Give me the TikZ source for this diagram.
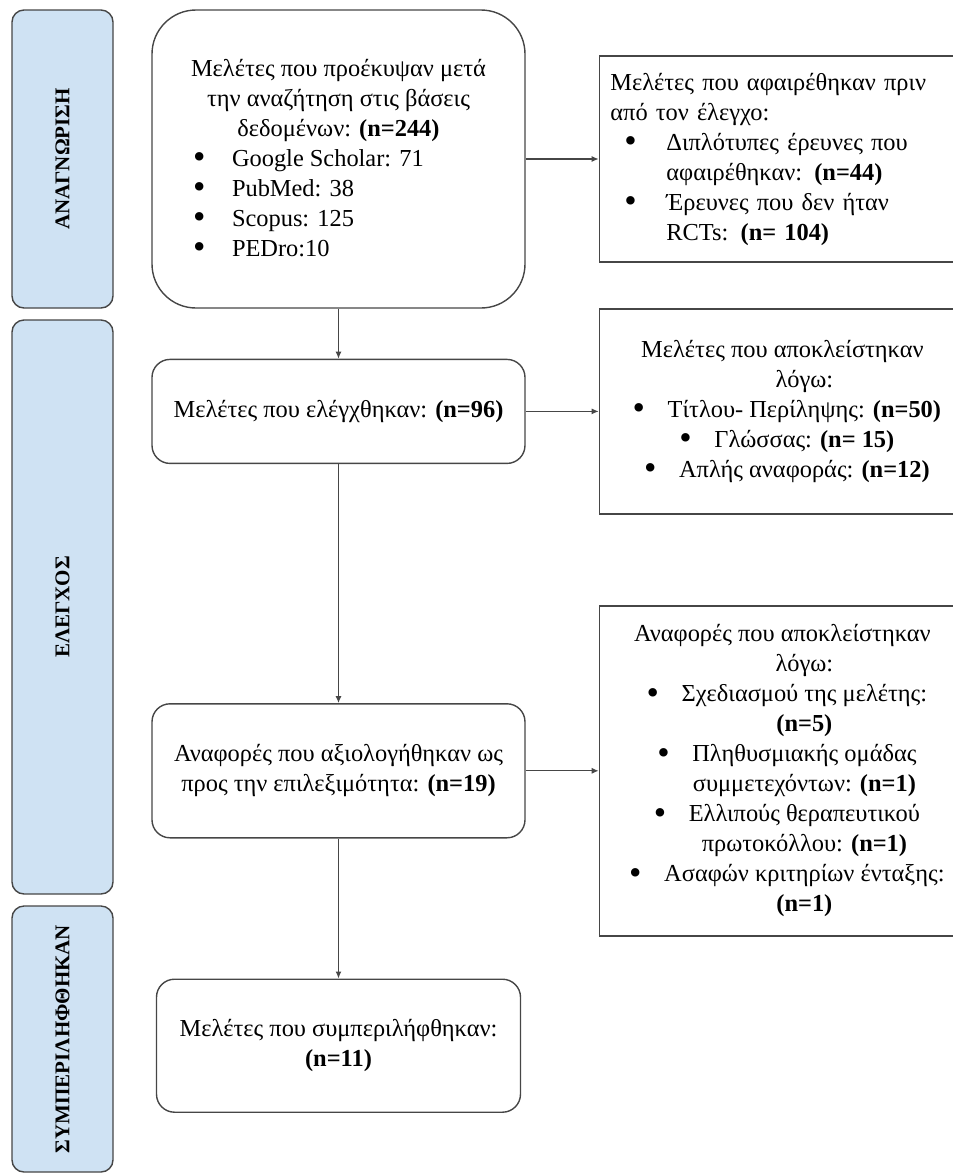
\documentclass[tikz,border=0pt]{standalone}
\usepackage{fontspec}
\setmainfont{Liberation Serif}
\usepackage{tikz}
\usetikzlibrary{arrows.meta, positioning}
\definecolor{phaseblue}{RGB}{207,226,243}
\definecolor{edgegray}{RGB}{70,70,70}
\newcommand{\bigdot}{\raisebox{-0.09em}{\scalebox{1.45}{\textbullet}}}
\newcommand{\listdot}{\makebox[19.5pt][l]{\bigdot}}
\newcommand{\hangdot}{\llap{\makebox[17.5pt][l]{\bigdot}}}

\begin{document}
\begin{tikzpicture}[
    x=0.5pt, y=-0.5pt,
    phase/.style={rectangle, rounded corners=6pt, draw=edgegray, line width=0.7pt, fill=phaseblue, minimum height=50.5pt, inner sep=0pt, rotate=90, font=\fontsize{10.5}{12}\selectfont\bfseries},
    flowbox/.style={rectangle, rounded corners=9pt, draw=edgegray, line width=0.7pt, minimum width=186.5pt, inner sep=0pt, align=center, font=\fontsize{12.2}{15}\selectfont},
    sidebox/.style={rectangle, draw=edgegray, line width=0.7pt, minimum width=205pt, inner sep=0pt, align=center, font=\fontsize{12.2}{15}\selectfont},
    arr/.style={-{Latex[length=3.5pt, width=3pt]}, line width=0.6pt, edgegray},
    node distance=25pt and 36.5pt,
]
\useasboundingbox (0,0) rectangle (953,1174);

% phases
\node[phase, minimum width=149pt] (identify) at (62.5,159)  {ΑΝΑΓΝΩΡΙΣΗ};
\node[phase, minimum width=287pt] (screen)   at (62.5,607)  {ΕΛΕΓΧΟΣ};
\node[phase, minimum width=133pt] (include)  at (62.5,1039) {ΣΥΜΠΕΡΙΛΗΦΘΗΚΑΝ};

% main flow
\node[flowbox, rounded corners=22pt, minimum height=149pt] (found) at (338.5,159)
    {Μελέτες που προέκυψαν μετά\\ την αναζήτηση στις βάσεις\\ δεδομένων: \textbf{(n=244)}\\
     \makebox[145.5pt][l]{\listdot Google Scholar: 71}\\
     \makebox[145.5pt][l]{\listdot PubMed: 38}\\
     \makebox[145.5pt][l]{\listdot Scopus: 125}\\
     \makebox[145.5pt][l]{\listdot PEDro:10}};
\node[flowbox, minimum height=52pt, below=of found] (screened)
    {Μελέτες που ελέγχθηκαν: \textbf{(n=96)}};
\node[flowbox, minimum height=67pt, below=119.5pt of screened] (eligible)
    {Αναφορές που αξιολογήθηκαν ως\\ προς την επιλεξιμότητα: \textbf{(n=19)}};
\node[flowbox, minimum width=182pt, minimum height=66.5pt, below=70pt of eligible] (included)
    {Μελέτες που συμπεριλήφθηκαν:\\ \textbf{(n=11)}};

% excluded
\node[sidebox, minimum height=103pt, text width=194pt, inner xsep=5.5pt, align=left, right=of found] (removed)
    {Μελέτες που αφαιρέθηκαν πριν\\ από τον έλεγχο:\\
     \hspace*{7pt}\makebox[21pt][l]{\bigdot}Διπλότυπες έρευνες που\\
     \hspace*{28pt}αφαιρέθηκαν: \textbf{(n=44)}\\
     \hspace*{7pt}\makebox[21pt][l]{\bigdot}Έρευνες που δεν ήταν\\
     \hspace*{28pt}RCTs: \textbf{(n= 104)}};
\node[sidebox, minimum height=102.5pt, right=of screened] (exclstudies)
    {Μελέτες που αποκλείστηκαν\hspace*{22pt}\\ λόγω:\hspace*{22pt}\\
     \hangdot Τίτλου- Περίληψης: \textbf{(n=50)}\\
     \hangdot Γλώσσας: \textbf{(n= 15)}\\
     \hangdot Απλής αναφοράς: \textbf{(n=12)}};
\node[sidebox, minimum height=165pt, right=of eligible] (exclreports)
    {Αναφορές που αποκλείστηκαν\hspace*{22pt}\\ λόγω:\hspace*{22pt}\\
     \hangdot Σχεδιασμού της μελέτης:\\ \textbf{(n=5)}\\
     \hangdot Πληθυσμιακής ομάδας\\ συμμετεχόντων: \textbf{(n=1)}\\
     \hangdot Ελλιπούς θεραπευτικού\\ πρωτοκόλλου: \textbf{(n=1)}\\
     \hangdot Ασαφών κριτηρίων ένταξης:\\ \textbf{(n=1)}};

\draw[arr] (found) -- (removed);
\draw[arr] (found) -- (screened);
\draw[arr] (screened) -- (exclstudies);
\draw[arr] (screened) -- (eligible);
\draw[arr] (eligible) -- (exclreports);
\draw[arr] (eligible) -- (included);
\end{tikzpicture}
\end{document}
